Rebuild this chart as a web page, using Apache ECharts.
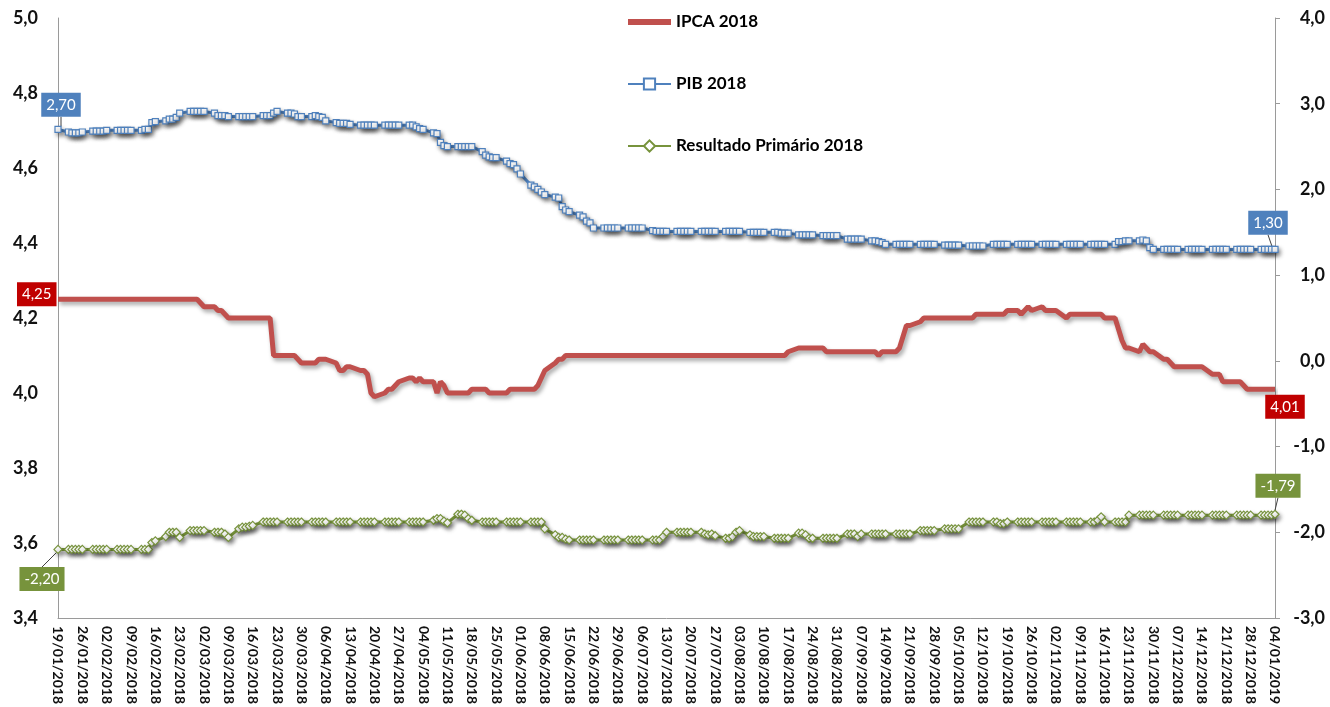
<!DOCTYPE html>
<html>
<head>
<meta charset="utf-8">
<script src="https://cdn.jsdelivr.net/npm/echarts@6/dist/echarts.min.js"></script>
<style>
  html, body { margin: 0; padding: 0; background: #ffffff; }
  #chart { width: 1330px; height: 707px; }
</style>
</head>
<body>
<div id="chart"></div>
<script>
// Período coberto (datas de coleta, dias úteis)
const inicio = [2018, 0, 19];
const fim = [2019, 0, 4];

const nomes = ['IPCA 2018', 'PIB 2018', 'Resultado Primário 2018'];

// Mediana das expectativas – uma linha por semana (seg..sex); a primeira é só a sexta 19/01
const ipca2018 = [
  4.25,
  4.25, 4.25, 4.25, 4.25, 4.25,
  4.25, 4.25, 4.25, 4.25, 4.25,
  4.25, 4.25, 4.25, 4.25, 4.25,
  4.25, 4.25, 4.25, 4.25, 4.25,
  4.25, 4.25, 4.25, 4.25, 4.25,
  4.25, 4.25, 4.25, 4.24, 4.23,
  4.23, 4.22, 4.22, 4.21, 4.20,
  4.20, 4.20, 4.20, 4.20, 4.20,
  4.20, 4.20, 4.20, 4.10, 4.10,
  4.10, 4.10, 4.10, 4.09, 4.08,
  4.08, 4.08, 4.09, 4.09, 4.09,
  4.08, 4.06, 4.06, 4.07, 4.07,
  4.06, 4.06, 4.05, 4.00, 3.99,
  4.00, 4.01, 4.01, 4.02, 4.03,
  4.04, 4.04, 4.03, 4.04, 4.03,
  4.03, 4.00, 4.03, 4.02, 4.00,
  4.00, 4.00, 4.00, 4.00, 4.01,
  4.01, 4.01, 4.00, 4.00, 4.00,
  4.00, 4.01, 4.01, 4.01, 4.01,
  4.01, 4.01, 4.02, 4.04, 4.06,
  4.08, 4.09, 4.09, 4.10, 4.10,
  4.10, 4.10, 4.10, 4.10, 4.10,
  4.10, 4.10, 4.10, 4.10, 4.10,
  4.10, 4.10, 4.10, 4.10, 4.10,
  4.10, 4.10, 4.10, 4.10, 4.10,
  4.10, 4.10, 4.10, 4.10, 4.10,
  4.10, 4.10, 4.10, 4.10, 4.10,
  4.10, 4.10, 4.10, 4.10, 4.10,
  4.10, 4.10, 4.10, 4.10, 4.10,
  4.10, 4.10, 4.10, 4.10, 4.11,
  4.12, 4.12, 4.12, 4.12, 4.12,
  4.12, 4.11, 4.11, 4.11, 4.11,
  4.11, 4.11, 4.11, 4.11, 4.11,
  4.11, 4.11, 4.10, 4.11, 4.11,
  4.11, 4.12, 4.15, 4.18, 4.18,
  4.19, 4.20, 4.20, 4.20, 4.20,
  4.20, 4.20, 4.20, 4.20, 4.20,
  4.20, 4.20, 4.21, 4.21, 4.21,
  4.21, 4.21, 4.21, 4.21, 4.22,
  4.22, 4.21, 4.22, 4.23, 4.22,
  4.23, 4.22, 4.22, 4.22, 4.22,
  4.20, 4.21, 4.21, 4.21, 4.21,
  4.21, 4.21, 4.21, 4.21, 4.20,
  4.20, 4.17, 4.14, 4.12, 4.12,
  4.11, 4.13, 4.12, 4.11, 4.11,
  4.09, 4.09, 4.08, 4.07, 4.07,
  4.07, 4.07, 4.07, 4.07, 4.07,
  4.05, 4.05, 4.05, 4.03, 4.03,
  4.03, 4.03, 4.02, 4.01, 4.01,
  4.01, 4.01, 4.01, 4.01, 4.01
];

const pib2018 = [
  2.70,
  2.67, 2.66, 2.66, 2.66, 2.67,
  2.68, 2.68, 2.68, 2.68, 2.69,
  2.69, 2.69, 2.69, 2.69, 2.69,
  2.69, 2.70, 2.70, 2.78, 2.79,
  2.80, 2.82, 2.82, 2.84, 2.89,
  2.91, 2.91, 2.91, 2.91, 2.91,
  2.89, 2.86, 2.86, 2.86, 2.85,
  2.85, 2.85, 2.85, 2.85, 2.85,
  2.86, 2.86, 2.86, 2.89, 2.91,
  2.89, 2.89, 2.88, 2.85, 2.85,
  2.85, 2.86, 2.85, 2.84, 2.80,
  2.78, 2.77, 2.77, 2.77, 2.76,
  2.75, 2.75, 2.75, 2.75, 2.75,
  2.75, 2.75, 2.75, 2.75, 2.75,
  2.75, 2.75, 2.73, 2.71, 2.70,
  2.66, 2.65, 2.55, 2.51, 2.50,
  2.50, 2.50, 2.50, 2.50, 2.50,
  2.44, 2.40, 2.38, 2.37, 2.37,
  2.33, 2.30, 2.29, 2.24, 2.18,
  2.05, 2.03, 2.00, 1.97, 1.94,
  1.91, 1.90, 1.80, 1.76, 1.74,
  1.70, 1.68, 1.63, 1.61, 1.55,
  1.55, 1.55, 1.55, 1.55, 1.55,
  1.55, 1.55, 1.55, 1.55, 1.55,
  1.52, 1.51, 1.51, 1.51, 1.51,
  1.51, 1.51, 1.51, 1.51, 1.51,
  1.51, 1.51, 1.51, 1.51, 1.51,
  1.51, 1.51, 1.51, 1.51, 1.51,
  1.50, 1.50, 1.50, 1.50, 1.50,
  1.50, 1.50, 1.49, 1.49, 1.49,
  1.47, 1.47, 1.47, 1.47, 1.47,
  1.46, 1.46, 1.46, 1.46, 1.46,
  1.42, 1.42, 1.42, 1.42, 1.42,
  1.40, 1.40, 1.39, 1.38, 1.36,
  1.36, 1.36, 1.36, 1.36, 1.36,
  1.36, 1.36, 1.36, 1.36, 1.36,
  1.35, 1.35, 1.35, 1.35, 1.35,
  1.34, 1.34, 1.34, 1.34, 1.34,
  1.36, 1.36, 1.36, 1.36, 1.36,
  1.36, 1.36, 1.36, 1.36, 1.36,
  1.36, 1.36, 1.36, 1.36, 1.36,
  1.36, 1.36, 1.36, 1.36, 1.36,
  1.36, 1.36, 1.36, 1.36, 1.36,
  1.36, 1.39, 1.39, 1.40, 1.40,
  1.40, 1.41, 1.40, 1.32, 1.30,
  1.30, 1.30, 1.30, 1.30, 1.30,
  1.30, 1.30, 1.30, 1.30, 1.30,
  1.30, 1.30, 1.30, 1.30, 1.30,
  1.30, 1.30, 1.30, 1.30, 1.30,
  1.30, 1.30, 1.30, 1.30, 1.30
];

const primario2018 = [
  -2.20,
  -2.20, -2.20, -2.20, -2.20, -2.20,
  -2.20, -2.20, -2.20, -2.20, -2.20,
  -2.20, -2.20, -2.20, -2.20, -2.20,
  -2.20, -2.20, -2.20, -2.12, -2.10,
  -2.05, -2.00, -2.00, -2.00, -2.06,
  -1.98, -1.98, -1.98, -1.98, -1.98,
  -2.00, -2.00, -2.00, -2.02, -2.06,
  -1.96, -1.94, -1.94, -1.93, -1.92,
  -1.88, -1.88, -1.88, -1.88, -1.88,
  -1.88, -1.88, -1.88, -1.88, -1.88,
  -1.88, -1.88, -1.88, -1.88, -1.88,
  -1.88, -1.88, -1.88, -1.88, -1.88,
  -1.88, -1.88, -1.88, -1.88, -1.88,
  -1.88, -1.88, -1.88, -1.88, -1.88,
  -1.88, -1.88, -1.88, -1.88, -1.88,
  -1.86, -1.84, -1.84, -1.87, -1.89,
  -1.79, -1.79, -1.80, -1.84, -1.86,
  -1.88, -1.88, -1.88, -1.88, -1.88,
  -1.88, -1.88, -1.88, -1.88, -1.88,
  -1.88, -1.88, -1.88, -1.88, -1.96,
  -2.03, -2.06, -2.06, -2.08, -2.09,
  -2.09, -2.09, -2.09, -2.09, -2.09,
  -2.09, -2.09, -2.09, -2.09, -2.09,
  -2.09, -2.09, -2.09, -2.09, -2.09,
  -2.09, -2.09, -2.09, -2.05, -2.00,
  -2.00, -2.00, -2.00, -2.00, -2.00,
  -2.00, -2.02, -2.03, -2.02, -2.04,
  -2.07, -2.07, -2.05, -2.00, -1.98,
  -2.03, -2.05, -2.05, -2.05, -2.05,
  -2.07, -2.07, -2.07, -2.07, -2.07,
  -2.01, -2.01, -2.03, -2.07, -2.07,
  -2.07, -2.07, -2.07, -2.07, -2.07,
  -2.02, -2.02, -2.02, -2.05, -2.02,
  -2.02, -2.02, -2.02, -2.02, -2.02,
  -2.02, -2.02, -2.02, -2.02, -2.02,
  -1.98, -1.98, -1.98, -1.98, -1.98,
  -1.96, -1.96, -1.96, -1.96, -1.96,
  -1.88, -1.88, -1.88, -1.88, -1.88,
  -1.88, -1.88, -1.90, -1.90, -1.88,
  -1.88, -1.88, -1.88, -1.88, -1.88,
  -1.88, -1.88, -1.88, -1.88, -1.88,
  -1.88, -1.88, -1.88, -1.88, -1.88,
  -1.88, -1.88, -1.86, -1.82, -1.88,
  -1.88, -1.88, -1.88, -1.88, -1.80,
  -1.80, -1.80, -1.80, -1.80, -1.80,
  -1.80, -1.80, -1.80, -1.80, -1.80,
  -1.80, -1.80, -1.80, -1.80, -1.80,
  -1.80, -1.80, -1.80, -1.80, -1.80,
  -1.80, -1.80, -1.80, -1.80, -1.80,
  -1.80, -1.80, -1.80, -1.80, -1.79
];

// Escalas dos eixos
const eixoEsq = { min: 3.4, max: 5.0, passo: 0.2 };
const eixoDir = { min: -3, max: 4, passo: 1 };

const cores = {
  ipca: '#C0504D', ipcaRotulo: '#C00000',
  pib: '#4F81BD', pibRotulo: '#4F81BD',
  prim: '#77933C', primRotulo: '#77933C'
};

const fonte = 'Lato, "Open Sans", "Liberation Sans", sans-serif';

// Eixo de datas corridas; fins de semana ficam vazios
const dias = [];
for (let t = Date.UTC(...inicio); t <= Date.UTC(...fim); t += 86400000) dias.push(new Date(t));
const dd = n => String(n).padStart(2, '0');
const rotulos = dias.map(d => dd(d.getUTCDate()) + '/' + dd(d.getUTCMonth() + 1) + '/' + d.getUTCFullYear());
const ultimo = dias.length - 1;

function porDiaUtil(valores) {
  let k = 0;
  return dias.map(d => {
    const w = d.getUTCDay();
    return (w === 0 || w === 6) ? null : valores[k++];
  });
}

const virgula = (v, casas) => v.toFixed(casas).replace('.', ',');

function rotuloCaixa(cor) {
  return {
    show: true,
    formatter: p => virgula(p.value, 2),
    color: '#ffffff',
    backgroundColor: cor,
    padding: [4, 5, 3, 5],
    fontSize: 15,
    fontFamily: fonte,
    lineHeight: 17
  };
}

// Marca o primeiro e o último ponto com o valor
function comExtremos(valores, cor, posIni, posFim) {
  const arr = porDiaUtil(valores);
  arr[0] = { value: arr[0], label: Object.assign(rotuloCaixa(cor), { position: posIni }) };
  arr[ultimo] = { value: arr[ultimo], label: Object.assign(rotuloCaixa(cor), { position: posFim }) };
  return arr;
}

function deslocamentos(ini, fimD) {
  return function (params) {
    if (params.dataIndex === 0) return { dx: ini[0], dy: ini[1] };
    return { dx: fimD[0], dy: fimD[1] };
  };
}

const sombra = {
  shadowColor: 'rgba(0,0,0,0.35)',
  shadowBlur: 4,
  shadowOffsetX: 2,
  shadowOffsetY: 3
};

const guia = { show: true, lineStyle: { color: '#404040', width: 1 } };

const ipcaDiario = porDiaUtil(ipca2018);

const chart = echarts.init(document.getElementById('chart'), null, { renderer: 'canvas' });

chart.setOption({
  animation: false,
  backgroundColor: '#ffffff',
  grid: { left: 58, right: 55, top: 18, bottom: 87 },
  legend: {
    orient: 'vertical',
    left: 620,
    top: 7,
    itemWidth: 43,
    itemHeight: 14,
    itemGap: 42,
    data: [
      // a linha do IPCA não tem marcador
      { name: nomes[0], itemStyle: { opacity: 0 }, lineStyle: { width: 6 } },
      { name: nomes[1] },
      { name: nomes[2] }
    ],
    textStyle: { fontSize: 17, fontWeight: 'bold', color: '#000', fontFamily: fonte, lineHeight: 20 }
  },
  xAxis: {
    type: 'category',
    data: rotulos,
    boundaryGap: false,
    axisLine: { onZero: false, lineStyle: { color: '#9a9a9a', width: 1 } },
    axisTick: { show: false },
    splitLine: { show: false },
    axisLabel: {
      interval: 6,
      rotate: -90,
      margin: 8,
      fontSize: 14,
      fontWeight: 'bold',
      color: '#111',
      fontFamily: fonte
    }
  },
  yAxis: [
    {
      type: 'value',
      min: eixoEsq.min,
      max: eixoEsq.max,
      interval: eixoEsq.passo,
      splitLine: { show: false },
      axisLine: { show: true, lineStyle: { color: '#9a9a9a', width: 1 } },
      axisTick: { show: false },
      axisLabel: {
        margin: 20,
        fontSize: 18,
        fontWeight: 'bold',
        color: '#111',
        fontFamily: fonte,
        formatter: v => virgula(v, 1)
      }
    },
    {
      type: 'value',
      position: 'right',
      min: eixoDir.min,
      max: eixoDir.max,
      interval: eixoDir.passo,
      splitLine: { show: false },
      axisLine: { show: true, lineStyle: { color: '#9a9a9a', width: 1 } },
      axisTick: { show: true, length: 5, lineStyle: { color: '#9a9a9a' } },
      axisLabel: {
        margin: 50,
        align: 'right',
        fontSize: 18,
        fontWeight: 'bold',
        color: '#111',
        fontFamily: fonte,
        formatter: v => virgula(v, 1)
      }
    }
  ],
  series: [
    {
      name: nomes[1],
      type: 'line',
      yAxisIndex: 1,
      connectNulls: true,
      symbol: 'rect',
      symbolSize: 6,
      showAllSymbol: true,
      z: 3,
      data: comExtremos(pib2018, cores.pibRotulo, 'top', 'top'),
      lineStyle: Object.assign({ color: cores.pib, width: 3 }, sombra),
      itemStyle: Object.assign({ color: '#ffffff', borderColor: cores.pib, borderWidth: 1.2 }, sombra),
      labelLine: guia,
      labelLayout: deslocamentos([3, -4], [-7, -6]),
      emphasis: { disabled: true }
    },
    {
      name: nomes[2],
      type: 'line',
      yAxisIndex: 1,
      connectNulls: true,
      symbol: 'diamond',
      symbolSize: 8,
      showAllSymbol: true,
      z: 3,
      data: comExtremos(primario2018, cores.primRotulo, 'bottom', 'top'),
      lineStyle: Object.assign({ color: cores.prim, width: 3 }, sombra),
      itemStyle: Object.assign({ color: '#ffffff', borderColor: cores.prim, borderWidth: 1.2 }, sombra),
      labelLine: guia,
      labelLayout: deslocamentos([-16, 8], [3, -7]),
      emphasis: { disabled: true }
    },
    {
      name: nomes[0],
      type: 'line',
      yAxisIndex: 0,
      connectNulls: true,
      symbol: 'none',
      z: 4,
      data: ipcaDiario,
      lineStyle: Object.assign({ color: cores.ipca, width: 5 }, sombra),
      itemStyle: { color: cores.ipca },
      emphasis: { disabled: true },
      markPoint: {
        symbol: 'circle',
        symbolSize: 1,
        silent: true,
        itemStyle: { color: 'rgba(0,0,0,0)' },
        data: [
          {
            coord: [0, ipcaDiario[0]],
            value: ipcaDiario[0],
            label: Object.assign(rotuloCaixa(cores.ipcaRotulo), { position: 'left', distance: 1, offset: [0, -5] })
          },
          {
            coord: [ultimo, ipcaDiario[ultimo]],
            value: ipcaDiario[ultimo],
            label: Object.assign(rotuloCaixa(cores.ipcaRotulo), { position: 'bottom', distance: 5, offset: [10, 0] })
          }
        ]
      }
    }
  ]
});
</script>
</body>
</html>
